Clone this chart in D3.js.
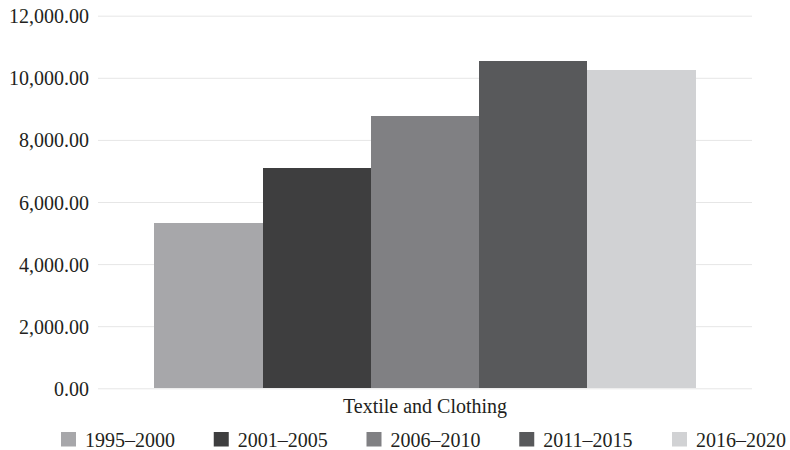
<!DOCTYPE html>
<html>
<head>
<meta charset="utf-8">
<script src="https://cdn.jsdelivr.net/npm/d3@7"></script>
<style>
  html, body { margin: 0; padding: 0; background: #fff; }
  svg { display: block; }
  text { font-family: "Liberation Serif", "DejaVu Serif", serif; fill: #231f20; }
</style>
</head>
<body>
<svg id="chart" width="790" height="450"></svg>
<script>
// Data
const categories = ["Textile and Clothing"];
const periods = ["1995–2000", "2001–2005", "2006–2010", "2011–2015", "2016–2020"];
const values = [5320, 7100, 8770, 10540, 10250];
const yTicks = [0, 2000, 4000, 6000, 8000, 10000, 12000];
const colors = ["#a7a7aa", "#3e3e3f", "#808083", "#58595b", "#d1d2d4"];

const svg = d3.select("#chart");
const margin = { left: 98, right: 38, top: 15.7, bottom: 61.7 };
const W = 790, H = 450;

const y = d3.scaleLinear()
  .domain([0, 12000])
  .range([H - margin.bottom, margin.top]);

const x0 = d3.scaleBand()
  .domain(categories)
  .range([margin.left, W - margin.right])
  .paddingInner(0)
  .paddingOuter(0.1044);

const x1 = d3.scaleBand()
  .domain(periods)
  .range([0, x0.bandwidth()]);

const color = d3.scaleOrdinal().domain(periods).range(colors);

// Gridlines and y-axis labels
const yAxis = d3.axisLeft(y)
  .tickValues(yTicks)
  .tickSize(-(W - margin.left - margin.right))
  .tickPadding(9)
  .tickFormat(d3.format(",.2f"));

const gy = svg.append("g")
  .attr("transform", `translate(${margin.left},0)`)
  .call(yAxis);
gy.select(".domain").remove();
gy.selectAll(".tick line").attr("stroke", "#e6e6e6").attr("stroke-width", 1);
gy.selectAll(".tick text")
  .attr("font-size", 20)
  .attr("font-family", "Liberation Serif, serif")
  .attr("fill", "#231f20")
  .attr("dy", "0.35em");

// Bars
const rows = categories.map(c => ({ cat: c, items: periods.map((p, i) => ({ p, v: values[i] })) }));
const groups = svg.append("g").selectAll("g")
  .data(rows)
  .join("g")
  .attr("transform", d => `translate(${x0(d.cat)},0)`);

groups.selectAll("rect")
  .data(d => d.items)
  .join("rect")
  .attr("x", d => x1(d.p))
  .attr("width", x1.bandwidth())
  .attr("y", d => y(d.v))
  .attr("height", d => y(0) - y(d.v))
  .attr("fill", d => color(d.p))
  .attr("shape-rendering", "crispEdges");

// Category axis label
const xAxis = d3.axisBottom(x0).tickSize(0).tickPadding(0);
const gx = svg.append("g")
  .attr("transform", `translate(0,${y(0)})`)
  .call(xAxis);
gx.select(".domain").remove();
gx.selectAll(".tick text")
  .attr("font-size", 20)
  .attr("font-family", "Liberation Serif, serif")
  .attr("fill", "#231f20")
  .attr("y", 25)
  .attr("dy", 0);

// Legend
const legendX = d3.scalePoint().domain(periods).range([61, 672]);
const legend = svg.append("g").selectAll("g")
  .data(periods)
  .join("g")
  .attr("transform", d => `translate(${legendX(d)},432)`);

legend.append("rect")
  .attr("width", 15)
  .attr("height", 14.5)
  .attr("fill", d => color(d));

legend.append("text")
  .attr("x", 24)
  .attr("y", 14.5)
  .attr("font-size", 20)
  .text(d => d);
</script>
</body>
</html>
